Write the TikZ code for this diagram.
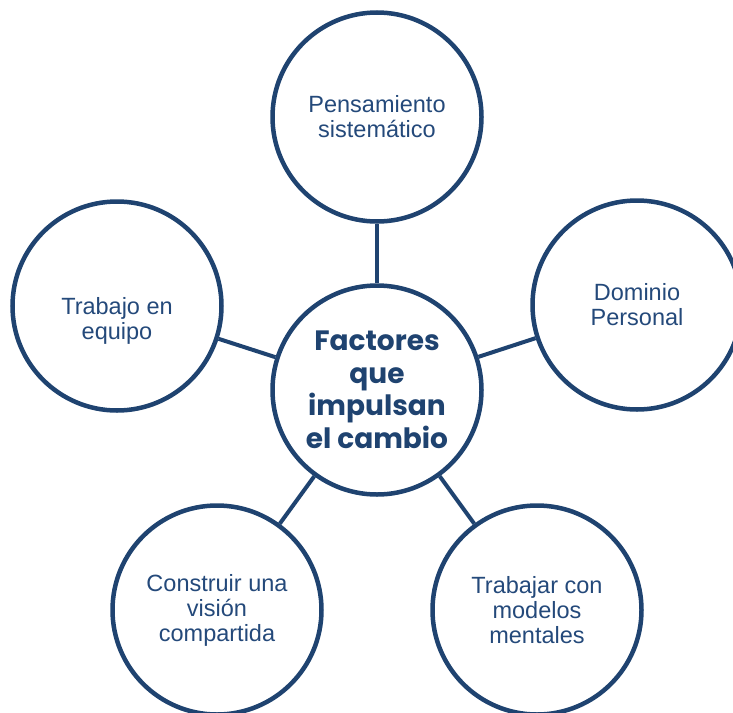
\documentclass[tikz,border=0pt]{standalone}
\usepackage{fontspec}
\setmainfont{Liberation Sans}
\newfontfamily\hubfont{Poppins}
\definecolor{navy}{HTML}{1F4370}
\definecolor{inkblue}{HTML}{24497A}
\begin{document}
\begin{tikzpicture}[x=1pt,y=-1pt]
\tikzset{
  ring/.style={circle, draw=navy, line width=4.5pt, minimum size=209pt,
    inner sep=0pt, align=center, text=inkblue,
    font=\fontsize{23.5}{25}\selectfont},
  hub/.style={ring, text=navy, font=\hubfont\bfseries\fontsize{28}{32.5}\selectfont},
  caption/.style={align=center, text=inkblue, inner sep=0pt,
    font=\fontsize{23.5}{25}\selectfont},
  link/.style={draw=navy, line width=4pt}
}
\useasboundingbox (0,0) rectangle (733,712);
\clip (0,0) rectangle (733,712);

% central hub
\node[hub] (hub) at (377,390) {Factores\\que\\impulsan\\el cambio};

% surrounding factors on a pentagon
\node[ring] (top) at (377,117) {Pensamiento\\sistemático};
\node[ring] (right) at (637,305) {Dominio\\Personal};
\node[ring] (left) at (117,306) {};
\node[caption] (lefttext) at (117,321) {Trabajo en\\equipo};
\node[ring] (botleft) at (217,610) {Construir una\\visión\\compartida};
\node[ring] (botright) at (537,610) {Trabajar con\\modelos\\mentales};

% spokes
\draw[link] (hub) -- (top);
\draw[link] (hub) -- (right);
\draw[link] (hub) -- (left);
\draw[link] (hub) -- (botleft);
\draw[link] (hub) -- (botright);
\end{tikzpicture}
\end{document}
